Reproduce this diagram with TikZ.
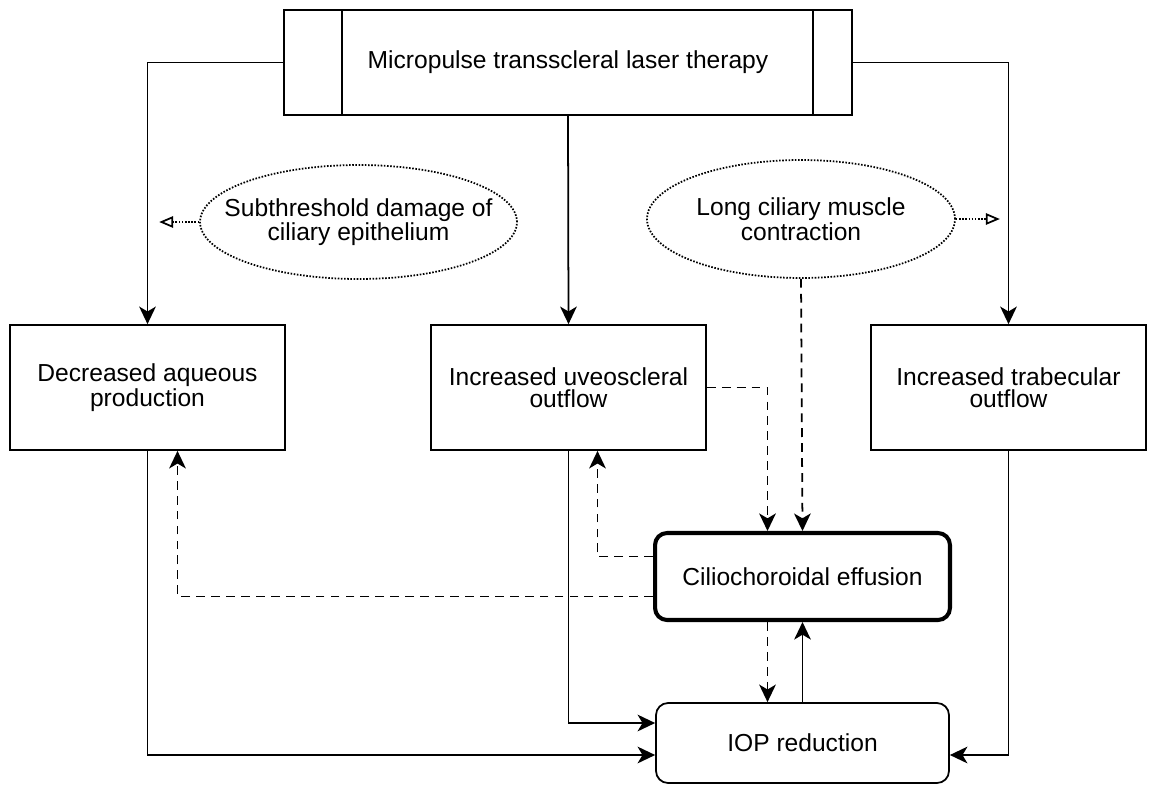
\documentclass[tikz,border=0pt]{standalone}
\usepackage{fontspec}
\setmainfont{Liberation Sans}
\usetikzlibrary{arrows.meta,calc,shapes.geometric}
\begin{document}
\begin{tikzpicture}[x=0.02cm,y=-0.02cm,
    font=\fontsize{14}{12.6}\selectfont,
    line width=1pt,
    >={Stealth[length=10pt,width=9.5pt,inset=2.8pt]},
    box/.style={draw, align=center, inner sep=0pt, minimum width=5.5cm, minimum height=2.5cm},
    oval/.style={draw, ellipse, align=center, inner xsep=-16pt, inner ysep=0pt, dash pattern=on 0.9pt off 0.9pt},
    dashline/.style={dash pattern=on 5pt off 3.5pt},
    dotline/.style={dash pattern=on 0.9pt off 0.9pt, -{Triangle[open,length=8pt,width=6.5pt]}}]
    \useasboundingbox (0,0) rectangle (1149,785);

    % nodes
    \node[box, minimum width=11.36cm, minimum height=2.1cm] (laser) at (568,62.5) {Micropulse transscleral laser therapy};
    \draw ($(laser.north west)+(59,0)$) -- ($(laser.south west)+(59,0)$);
    \draw ($(laser.north east)+(-40,0)$) -- ($(laser.south east)+(-40,0)$);

    \node[oval, minimum width=6.34cm, minimum height=2.28cm] (subdmg) at (358.5,222) {Subthreshold damage of\\ciliary epithelium};
    \node[oval, minimum width=6.16cm, minimum height=2.36cm] (musc) at (801,219) {Long ciliary muscle\\contraction};

    \node[box] (aqueous) at (147.5,387.5) {Decreased aqueous\\production};
    \node[box] (uveo) at (568.5,387.5) {Increased uveoscleral\\outflow};
    \node[box] (trab) at (1008.5,387.5) {Increased trabecular\\outflow};

    \node[draw, line width=2.3pt, rounded corners=0.24cm, inner sep=0pt, minimum width=5.9cm, minimum height=1.74cm] (effusion) at (802.5,576.5) {Ciliochoroidal effusion};
    \node[draw, rounded corners=0.24cm, inner sep=0pt, minimum width=5.86cm, minimum height=1.6cm] (iop) at (802.5,743) {IOP reduction};

    % laser therapy outputs
    \draw[->] (laser.west) -| (aqueous.north);
    \draw[->] (laser.south) -- (uveo.north);
    \draw[->] (laser.east) -| (trab.north);

    % mechanisms
    \draw[dotline] (subdmg.west) -- +(-40,0);
    \draw[dotline] (musc.east) -- +(44,0);
    \draw[dashline, ->] (musc.south) -- (effusion.north);
    \draw[dashline, ->] (uveo.east) -| ($(effusion.north)+(-35,0)$);
    \draw[dashline, ->] ($(effusion.west)+(0,-20)$) -| ($(uveo.south)+(29,0)$);
    \draw[dashline, ->] ($(effusion.west)+(0,20)$) -| ($(aqueous.south)+(30,0)$);
    \draw[dashline, ->] ($(effusion.south)+(-35,0)$) -- ($(iop.north)+(-35,0)$);
    \draw[->] (iop.north) -- (effusion.south);

    % into IOP reduction
    \draw[->] (uveo.south) |- ($(iop.west)+(0,-20)$);
    \draw[->] (aqueous.south) |- ($(iop.west)+(0,12)$);
    \draw[->] (trab.south) |- ($(iop.east)+(0,12)$);
\end{tikzpicture}
\end{document}
